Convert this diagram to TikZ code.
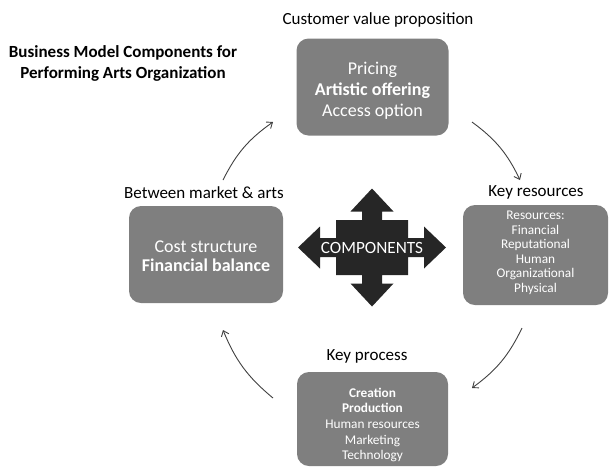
\documentclass[tikz,border=0pt]{standalone}
\usepackage{fontspec}
\setmainfont{Carlito}
\usetikzlibrary{arrows.meta}
\definecolor{boxgray}{HTML}{7F7F7F}
\definecolor{compdark}{HTML}{262626}
\definecolor{arrowgray}{HTML}{404040}

\begin{document}
\begin{tikzpicture}[x=1pt,y=-1pt,>={Straight Barb[length=5pt,width=8pt]},
  box/.style={fill=boxgray,rounded corners=12pt,inner sep=0pt},
  boxtxt/.style={text=white,align=center,inner sep=0pt},
  lbl/.style={font=\fontsize{17}{20}\selectfont},
  cyc/.style={draw=arrowgray,line width=0.9pt,->,bend left=14}]
\useasboundingbox (0,0) rectangle (609,467);
	% title
	\node[font=\fontsize{17}{21}\selectfont\bfseries,align=center] (title) at (123,63) {Business Model Components for\\Performing Arts Organization};
	% customer value proposition
	\node[lbl] (offerlbl) at (378,20) {Customer value proposition};
	\node[box,minimum width=152,minimum height=97] (offer) at (372.5,87) {};
	\node[boxtxt,font=\fontsize{18}{21}\selectfont] (offertxt) at ([yshift=-4pt]offer.center) {Pricing\\\textbf{Artistic offering}\\Access option};
	% key resources
	\node[lbl] (reslbl) at (536,192) {Key resources};
	\node[box,minimum width=145,minimum height=100] (res) at (535.5,255) {};
	\node[boxtxt,font=\fontsize{13.3}{14.5}\selectfont] (restxt) at ([yshift=2pt]res.center) {Resources:\\Financial\\Reputational\\Human\\Organizational\\Physical};
	% key process
	\node[lbl] (proclbl) at (367,356) {Key process};
	\node[box,minimum width=151,minimum height=94] (proc) at (372.5,419) {};
	\node[boxtxt,font=\fontsize{13.3}{15.7}\selectfont] (proctxt) at ([yshift=-6pt]proc.center) {\textbf{Creation}\\\textbf{Production}\\Human resources\\Marketing\\Technology};
	% between market & arts
	\node[lbl] (costlbl) at (204,193) {Between market \& arts};
	\node[box,minimum width=154,minimum height=97] (cost) at (206,254.5) {};
	\node[boxtxt,font=\fontsize{18}{19}\selectfont] (costtxt) at ([yshift=-2pt]cost.center) {Cost structure\\\textbf{Financial balance}};
	% components cross
	\fill[compdark] (372,188.5) -- (393.5,211.5) -- (382,211.5) -- (382,220) -- (408,220) -- (408,238)
	  -- (424,238) -- (424,226.5) -- (446,247.5) -- (424,268.5) -- (424,257) -- (408,257)
	  -- (408,275) -- (382,275) -- (382,283.5) -- (393.5,283.5) -- (372,306.5) -- (350.5,283.5)
	  -- (362,283.5) -- (362,275) -- (336,275) -- (336,257) -- (320,257) -- (320,268.5)
	  -- (298,247.5) -- (320,226.5) -- (320,238) -- (336,238) -- (336,220) -- (362,220)
	  -- (362,211.5) -- (350.5,211.5) -- cycle;
	\node[text=white,font=\fontsize{17.2}{20}\selectfont] (comp) at (372,248) {COMPONENTS};
	% cycle arrows
	\coordinate (a1s) at (223,180);
	\coordinate (a1e) at (273,122);
	\coordinate (a2s) at (472,122);
	\coordinate (a2e) at (520,180);
	\coordinate (a3s) at (522,328);
	\coordinate (a3e) at (472,388);
	\coordinate (a4s) at (273,398);
	\coordinate (a4e) at (223,330);
	\draw[cyc] (a1s) to (a1e);
	\draw[cyc] (a2s) to (a2e);
	\draw[cyc] (a3s) to (a3e);
	\draw[cyc] (a4s) to (a4e);
\end{tikzpicture}
\end{document}
